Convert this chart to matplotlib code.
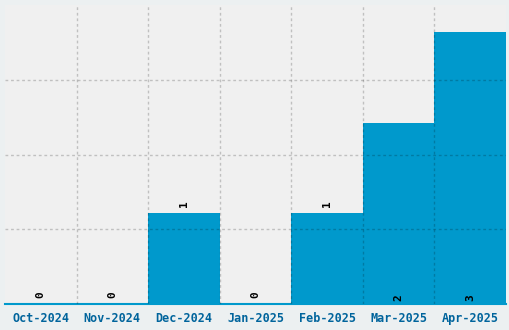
import matplotlib.pyplot as plt
import numpy as np

months = ['Oct-2024', 'Nov-2024', 'Dec-2024', 'Jan-2025', 'Feb-2025', 'Mar-2025', 'Apr-2025']
counts = [0, 0, 1, 0, 1, 2, 3]

bar_col = '#0099cc'
tick_col = '#00649c'

fig = plt.figure(figsize=(5.1, 3.3), dpi=100, facecolor='#ecf0f1')
ax = fig.add_axes([5 / 510, 26 / 330, 501 / 510, 299 / 330])
ax.set_facecolor('#f0f0f0')

x = np.arange(len(months))
ax.bar(x, counts, width=1.0, color=bar_col, zorder=2)

ymax = max(counts) * 1.1
ax.set_xlim(-0.5, len(months) - 0.5)
ax.set_ylim(0, ymax)

# grid on category boundaries and 4 equal rows (no line at the top edge)
ax.set_xticks(np.arange(len(months) - 1) + 0.5, minor=True)
ax.set_yticks(np.linspace(0, ymax, 5)[1:4])
ax.grid(True, which='minor', axis='x', color='black', alpha=0.2, linestyle=(0, (2, 2)), linewidth=1, zorder=3)
ax.grid(True, which='major', axis='y', color='black', alpha=0.2, linestyle=(0, (2, 2)), linewidth=1, zorder=3)
ax.set_axisbelow(False)

ax.set_xticks(x)
ax.set_xticklabels(months, fontfamily='DejaVu Sans Mono', fontweight='bold', fontsize=8.5, color=tick_col)
ax.set_yticklabels([])
ax.tick_params(axis='both', which='both', length=0)
ax.tick_params(axis='x', pad=6)

for s in ['top', 'left', 'right']:
    ax.spines[s].set_visible(False)
ax.spines['bottom'].set_color(bar_col)
ax.spines['bottom'].set_linewidth(1.5)

unit = ymax / 299  # one pixel in data units
for xi, v in zip(x, counts):
    if v >= 2:
        y = 3 * unit
    else:
        y = v + 6 * unit
    ax.text(xi, y, str(v), rotation=90, ha='center', va='bottom', fontfamily='DejaVu Sans Mono',
            fontweight='bold', fontsize=8, color='black', zorder=4)

fig.savefig('out.png', dpi=100, facecolor=fig.get_facecolor())
